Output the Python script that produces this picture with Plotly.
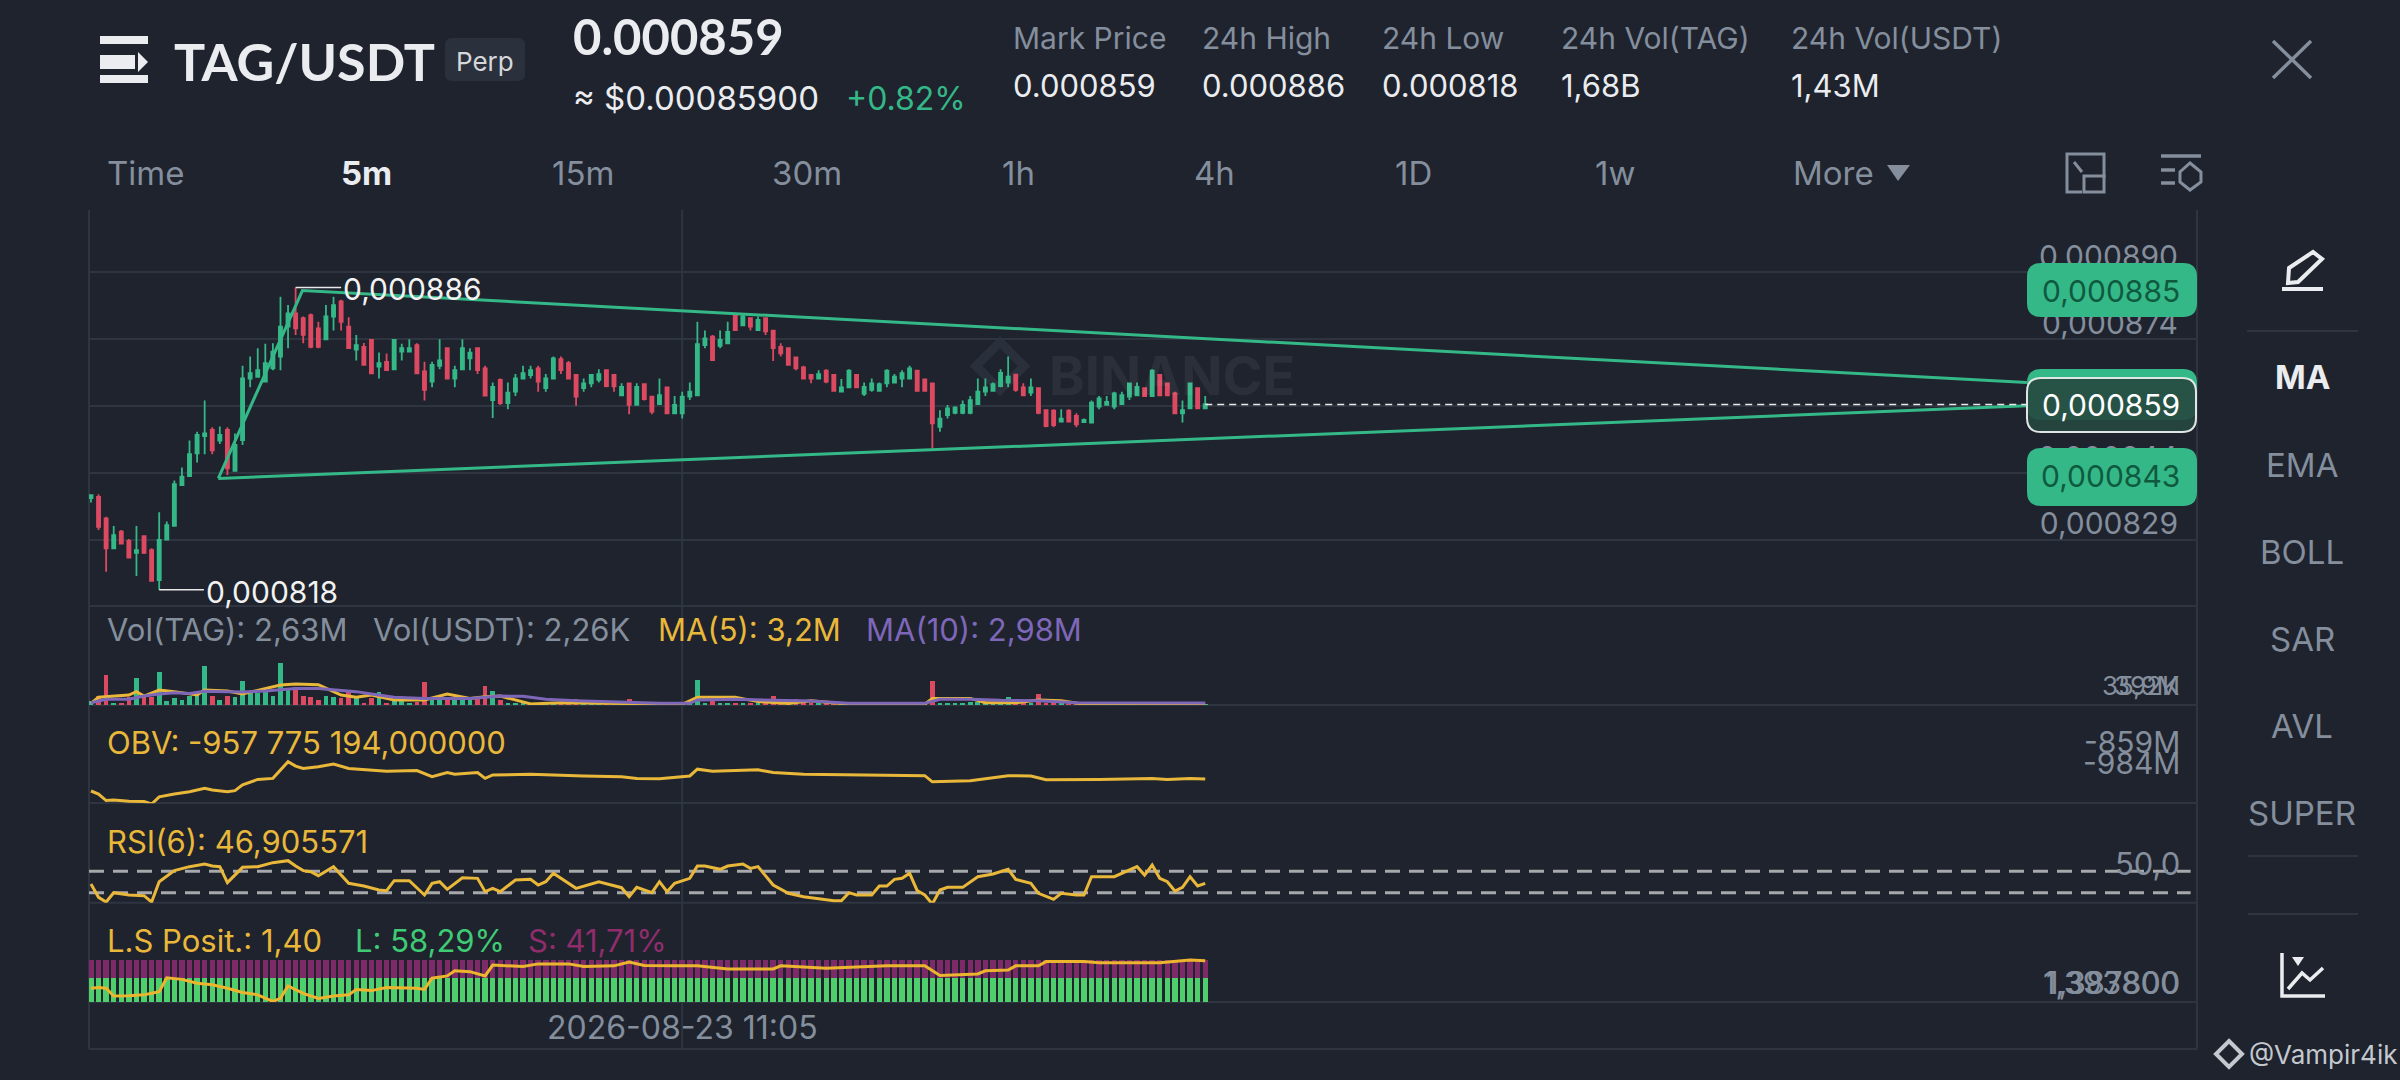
import plotly.graph_objects as go

# candle prices, in millionths of a USDT
opens = [838.6,838.9,834.0,827.2,831.0,828.9,826.2,830.0,826.8,820.0,
829.2,832.3,841.6,843.6,848.8,852.7,854.1,851.7,854.1,844.8,
851.8,865.8,866.2,865.1,868.1,870.8,877.6,880.6,879.5,880.2,
877.2,874.7,879.9,883.3,877.6,872.4,873.0,874.6,868.5,869.6,
867.9,871.9,871.9,873.4,867.4,865.1,868.7,872.7,865.8,867.9,
870.4,872.7,868.1,860.9,865.5,860.2,862.8,865.8,866.6,868.1,
863.6,865.8,870.2,869.3,866.6,863.6,864.7,865.5,867.7,866.6,
862.0,864.7,859.8,864.5,861.7,860.0,863.8,857.9,857.9,861.7,
862.0,873.4,875.3,873.2,873.8,880.2,877.9,879.5,876.8,879.5,
876.7,873.0,872.7,870.6,868.3,866.6,865.8,867.6,866.6,862.8,
863.8,866.6,862.3,863.2,863.0,864.7,864.9,865.8,865.8,867.6,
865.6,864.7,854.8,857.5,858.0,858.0,858.0,860.0,862.8,863.0,
864.1,864.9,866.7,863.8,862.6,863.6,858.6,858.5,856.0,858.5,
857.3,855.9,855.8,859.4,859.8,859.4,860.0,861.7,862.0,863.6,
861.8,866.6,864.7,862.4,857.9,859.0,863.6,859.0]
closes = [839.3,832.1,827.2,830.2,828.3,825.1,826.8,826.2,819.8,829.1,
832.5,841.8,843.5,848.6,853.0,853.3,849.5,853.0,845.4,850.7,
865.8,867.0,867.7,869.3,871.9,877.6,880.6,877.2,875.7,873.0,
873.0,879.9,882.5,878.7,872.7,873.4,868.9,867.0,869.3,867.7,
874.6,872.7,872.7,867.0,863.2,868.9,869.9,865.8,867.7,872.7,
871.7,867.7,861.9,863.9,860.2,862.6,865.8,867.0,867.7,865.1,
865.8,870.4,867.7,865.8,861.7,864.7,866.6,866.8,864.1,864.0,
863.9,859.8,863.9,861.1,858.3,862.0,857.9,859.8,861.7,862.8,
873.6,874.9,870.0,874.6,876.4,876.8,879.9,877.6,879.1,876.5,
872.7,871.5,868.9,868.1,865.8,865.8,866.8,865.1,863.0,863.8,
867.6,863.8,863.9,864.7,864.5,867.6,866.2,867.0,868.1,863.0,
863.0,855.6,856.7,859.0,859.2,859.8,860.9,862.8,863.8,864.5,
867.1,866.2,863.2,862.0,863.8,858.0,855.0,855.2,856.7,856.0,
855.4,856.4,860.3,861.3,860.5,862.4,862.0,864.7,863.9,861.8,
867.6,862.0,862.0,857.9,858.6,864.7,859.0,860.0]
highs = [839.5,839.5,834.4,832.3,831.4,829.3,832.3,830.2,827.2,835.4,
833.3,842.6,845.6,851.7,853.7,860.8,854.7,854.9,854.7,853.3,
868.7,870.8,872.7,873.7,873.8,884.4,882.5,886.5,879.9,880.6,
878.7,882.5,884.4,883.7,879.7,875.7,873.9,874.7,871.7,871.5,
874.7,873.7,874.7,873.8,869.6,869.6,874.7,872.7,868.7,874.7,
872.7,872.8,868.7,864.9,865.8,864.9,866.8,868.7,868.7,868.7,
866.8,870.8,870.8,869.8,866.6,865.8,866.8,867.9,867.9,866.8,
864.7,864.9,864.7,864.7,861.8,865.8,863.8,861.8,862.8,864.9,
878.7,876.7,875.7,876.7,878.7,880.6,880.6,879.7,879.9,879.7,
876.8,873.8,872.8,870.8,868.7,866.8,867.7,867.9,866.8,865.7,
867.9,866.8,864.9,865.8,864.9,867.9,866.8,867.7,868.7,867.7,
865.8,864.9,858.6,859.8,859.5,860.8,861.8,865.8,865.8,864.9,
867.9,870.8,866.8,864.7,865.8,863.8,858.8,858.8,858.8,858.8,
857.9,856.7,860.8,861.8,861.8,862.8,862.8,864.9,864.9,863.8,
867.9,866.8,864.9,862.8,860.8,864.9,863.8,861.8]
lows = [837.6,831.4,821.9,827.2,828.2,824.9,820.9,825.9,819.8,817.8,
829.2,832.3,841.6,843.6,846.7,848.6,848.6,850.9,843.9,844.6,
850.7,863.8,866.2,864.9,867.7,867.7,872.7,875.7,873.8,872.7,
872.7,874.7,876.7,876.7,872.7,869.9,868.7,866.8,865.8,867.7,
867.7,869.9,871.8,866.8,860.8,863.8,867.9,865.8,863.8,867.7,
867.7,866.8,861.9,856.8,859.8,858.8,861.8,865.8,865.8,862.8,
862.8,865.8,866.8,865.8,859.6,862.8,863.8,864.9,863.8,862.8,
861.8,857.7,859.8,860.8,857.7,859.8,857.7,857.7,856.7,860.9,
861.8,872.7,869.8,872.7,873.6,876.6,877.7,876.7,876.7,875.7,
869.8,870.8,868.7,867.7,865.7,864.7,865.8,864.7,862.8,862.8,
863.8,863.8,861.8,862.8,862.8,863.8,864.7,863.8,865.7,862.8,
862.8,849.9,853.7,856.7,857.7,857.7,857.7,859.8,861.8,862.8,
863.8,863.8,862.8,861.8,861.8,857.7,854.7,854.7,855.8,855.8,
854.7,855.8,855.8,858.8,859.8,858.8,859.8,860.9,861.8,861.8,
861.8,861.8,861.8,857.7,855.8,858.8,858.8,858.8]

# volume in millions of TAG
volumes = [3.3,8.1,26.2,1.8,1.8,7.0,23.4,7.0,7.0,28.2,
3.3,6.1,4.7,8.1,9.0,33.4,8.1,4.1,8.1,7.0,
20.5,11.0,10.4,11.0,8.1,35.9,13.3,15.6,7.6,7.0,
4.7,7.6,7.0,6.1,11.9,7.0,1.8,6.1,11.0,1.8,
4.1,4.1,1.8,2.4,19.6,5.3,4.7,7.0,4.1,4.1,
4.1,5.3,16.2,12.4,4.7,1.2,1.0,1.4,1.0,0.9,
1.2,0.8,1.0,1.3,5.3,1.6,1.2,1.0,1.3,0.9,
1.5,5.3,1.4,1.0,0.8,0.9,1.2,0.8,0.9,1.0,
21.9,1.6,4.1,1.2,1.0,0.9,1.1,1.3,1.0,1.5,
8.1,1.5,1.2,5.3,1.2,1.0,0.9,1.1,1.0,0.8,
0.9,1.0,0.8,0.9,0.8,1.0,0.9,0.8,0.9,1.2,
1.3,21.0,1.6,1.2,1.0,1.3,2.4,2.4,1.0,1.1,
1.4,7.0,1.5,1.2,1.4,9.9,1.4,1.1,0.9,0.8,
0.7,0.8,0.9,0.7,0.8,0.7,0.9,0.8,0.7,0.8,
1.0,0.9,0.7,0.8,0.8,0.9,0.8,0.8]

ma5_x = [0,1,5,6,7,9,11,14,15,18,20,25,27,30,33,35,37,40,44,47,50,52,54,56,58,62,72,78,80,85,88,92,95,100,110,111,116,118,122,125,128,131,147]
ma5 = [1.4,6.6,8.6,11.5,7.7,12.9,11.5,8.6,12.9,12,9.5,17.2,18.1,17.5,8.6,6.6,8.6,4.3,4.3,9.5,5.7,7.2,7.7,4.3,0.9,2,1.4,0.6,6.6,6.6,2.9,1.4,3.7,0.6,0.6,5.7,5.7,2,2,4.3,3.7,0.6,0.6]
ma10_x = [0,2,5,7,9,11,13,15,18,20,23,25,27,30,33,35,37,40,44,47,50,52,54,57,60,64,70,75,79,80,85,90,95,100,110,112,116,120,125,130,147]
ma10 = [2.0,4.9,4.9,7.7,9.5,10.6,10,11.8,11.5,11.2,12,12.9,14.1,14.1,12.9,11.5,9.5,6.6,5.5,5.7,5.5,6.6,7.7,7.5,4.9,3.7,2.6,1.4,1.4,4.3,4.9,4.3,3.4,1.4,1.4,4.9,4.9,4.0,3.7,2.0,1.7]

obv_x = [0,1,2,3,5,7,8,9,11,13,15,16,18,19,20,22,24,25,26,27,28,30,32,34,37,39,43,45,47,48,51,52,53,58,65,70,72,75,79,80,82,88,90,94,110,111,116,121,124,126,133,140,142,145,147]
obv = [-945,-954,-973,-971,-975,-976,-983,-962,-954,-947,-937,-942,-947,-944,-927,-911,-908,-883,-859,-872,-879,-874,-866,-879,-883,-887,-885,-903,-891,-896,-891,-908,-898,-896,-901,-903,-908,-909,-901,-881,-887,-883,-891,-896,-900,-918,-915,-900,-901,-912,-911,-908,-911,-908,-910]

rsi_x = [0,1,2,3,5,7,8,9,11,13,15,16,17,18,20,22,24,26,27,28,29,30,32,34,36,38,39,40,42,44,45,46,47,49,51,52,53,54,56,58,59,60,61,64,67,70,71,72,74,75,76,77,79,80,81,83,84,86,87,88,90,92,94,96,98,99,100,101,103,104,105,106,107,108,109,110,111,112,113,115,117,119,121,122,124,125,127,128,130,131,132,135,137,138,139,140,141,142,143,144,145,146,147]
rsi = [46.3,21.3,12.5,30,25.6,24.4,12.5,50.6,71.3,78.8,83.8,80,78.8,48.8,77.5,78.8,86.3,90,80,71.3,69.4,61.9,78.8,47.5,42.5,35,33.8,52.5,52.5,25.6,47.5,50.6,36.3,58.1,56.9,31.9,38.1,31.9,53.8,55,44.4,50.6,66.3,38.1,50.6,39.4,22.5,40,30,50.6,31.9,47.5,56.9,80,80,73.8,80,83.8,75.6,78.8,44.4,28.8,22.5,19.4,15,15,30,25.6,25.6,42.5,42.5,55,56.9,66.3,33.8,25.6,8.8,35,40,40,60,65,73.8,55,47.5,28.8,17.5,28.8,25.6,25.6,60,60,72.5,78.8,63.1,81.9,56.9,50.6,33.1,40,60,42.5,47.5]
rsi_levels = [70, 30]

ls_x = [0,1,2,3,5,7,8,9,10,12,14,16,18,20,22,24,25,26,28,30,32,34,35,37,39,43,44,45,47,48,50,52,53,57,59,63,65,69,71,73,77,80,84,90,91,97,105,110,112,117,118,121,122,125,126,131,133,141,145,147]
ls_ratio = [1.327,1.329,1.327,1.307,1.308,1.310,1.314,1.318,1.354,1.350,1.340,1.336,1.327,1.316,1.310,1.293,1.301,1.333,1.314,1.301,1.307,1.310,1.324,1.321,1.329,1.327,1.324,1.353,1.359,1.372,1.370,1.359,1.387,1.383,1.390,1.390,1.383,1.385,1.395,1.386,1.385,1.385,1.377,1.377,1.385,1.379,1.385,1.385,1.360,1.364,1.372,1.374,1.385,1.385,1.396,1.396,1.393,1.393,1.400,1.398]
long_pct = [58.29] * len(opens)
short_pct = [41.71] * len(opens)

price_ticks = [890, 874.7, 859.5, 844.3, 829.2]
price_labels = ["0,000890", "0,000874", "0,000860", "0,000844", "0,000829"]

# drawn trendlines, index on the candle axis / price
trend_x = [16.8, 27.9, 255.4]
trend_y = [843.1, 885.8, 864.9]
base_x = [16.8, 255.4]
base_y = [843.1, 859.6]
last_price = 859.9
low_leader_x = [9, 14.9]
low_price = 817.8
high_leader_x = [27, 33]
high_price = 886.5

header_stats = [("Mark Price", "0.000859"), ("24h High", "0.000886"), ("24h Low", "0.000818"),
                ("24h Vol(TAG)", "1,68B"), ("24h Vol(USDT)", "1,43M")]
stat_pos = [1012, 1201, 1381, 1560, 1790]
tabs = ["5m", "15m", "30m", "1h", "4h", "1D", "1w"]
tab_pos = [366, 583, 807, 1018, 1214, 1414, 1615]
side_items = ["EMA", "BOLL", "SAR", "AVL", "SUPER"]
side_pos = [465, 552, 639, 726, 813]

BG = "#1e232e"
GRID = "#2f3540"
GREY = "#848e9c"
WHITE = "#eaecef"
GREEN = "#35b887"
RED = "#dc4a62"
YELLOW = "#e9b83a"
PURPLE = "#7e67b8"
FONT = "Inter"
W, H = 2400, 1080


def px(x):
    return x / W


def py(y):
    return 1 - y / H


annotations = []
shapes = []


def txt(x, y, s, size=29, color=GREY, anchor="left", weight=None, family=FONT):
    if weight:
        s = f"<b>{s}</b>"
    annotations.append(dict(x=px(x), y=py(y), xref="paper", yref="paper", text=s, showarrow=False,
                            xanchor=anchor, yanchor="middle", borderpad=0,
                            font=dict(family=family, size=size, color=color)))


def rect(x0, y0, x1, y1, fill, layer="above"):
    shapes.append(dict(type="rect", xref="paper", yref="paper", x0=px(x0), x1=px(x1), y0=py(y0), y1=py(y1),
                       fillcolor=fill, line=dict(width=0), layer=layer))


def seg(x0, y0, x1, y1, color=GRID, width=2, layer="below"):
    shapes.append(dict(type="line", xref="paper", yref="paper", x0=px(x0), x1=px(x1), y0=py(y0), y1=py(y1),
                       line=dict(color=color, width=width), layer=layer))


def path(points, color=None, fill=None, width=3, close=False, layer="above"):
    d = "M" + " L".join(f"{px(a):.5f},{py(b):.5f}" for a, b in points) + (" Z" if close else "")
    shapes.append(dict(type="path", xref="paper", yref="paper", path=d, layer=layer, fillcolor=fill or "rgba(0,0,0,0)",
                       line=dict(color=color or "rgba(0,0,0,0)", width=width if color else 0)))


def pill(x0, y0, x1, y1, fill, r=14, border=None):
    q = lambda a, b: f"{px(a):.5f},{py(b):.5f}"
    d = (f"M{q(x0 + r, y0)} L{q(x1 - r, y0)} Q{q(x1, y0)} {q(x1, y0 + r)} L{q(x1, y1 - r)} Q{q(x1, y1)} {q(x1 - r, y1)} "
         f"L{q(x0 + r, y1)} Q{q(x0, y1)} {q(x0, y1 - r)} L{q(x0, y0 + r)} Q{q(x0, y0)} {q(x0 + r, y0)} Z")
    shapes.append(dict(type="path", xref="paper", yref="paper", path=d, fillcolor=fill, layer="above",
                       line=dict(color=border or "rgba(0,0,0,0)", width=2 if border else 0)))


idx = list(range(len(opens)))
fig = go.Figure()

fig.add_trace(go.Candlestick(x=idx, open=opens, high=highs, low=lows, close=closes, yaxis="y",
                             increasing=dict(line=dict(color=GREEN, width=1.8), fillcolor=GREEN),
                             decreasing=dict(line=dict(color=RED, width=1.8), fillcolor=RED),
                             whiskerwidth=0, hoverinfo="skip"))
fig.add_trace(go.Scatter(x=low_leader_x, y=[low_price] * 2, mode="lines", line=dict(color="#e8e8e8", width=1.5)))
fig.add_trace(go.Scatter(x=high_leader_x, y=[high_price] * 2, mode="lines", line=dict(color="#e8e8e8", width=1.5)))
fig.add_trace(go.Scatter(x=trend_x, y=trend_y, mode="lines", line=dict(color=GREEN, width=3)))
fig.add_trace(go.Scatter(x=base_x, y=base_y, mode="lines", line=dict(color=GREEN, width=3)))
fig.add_trace(go.Scatter(x=[idx[-1], trend_x[-1]], y=[last_price] * 2, mode="lines",
                         line=dict(color="#e8e8e8", width=1.5, dash="7px,5px")))

# volume
bar_colors = [GREEN if c >= o else RED for o, c in zip(opens, closes)]
fig.add_trace(go.Bar(x=idx, y=volumes, marker=dict(color=bar_colors, line=dict(width=0)), width=0.62, yaxis="y2"))
fig.add_trace(go.Scatter(x=ma5_x, y=ma5, mode="lines", line=dict(color=YELLOW, width=3), yaxis="y2", cliponaxis=False))
fig.add_trace(go.Scatter(x=ma10_x, y=ma10, mode="lines", line=dict(color=PURPLE, width=3), yaxis="y2", cliponaxis=False))

fig.add_trace(go.Scatter(x=obv_x, y=obv, mode="lines", line=dict(color=YELLOW, width=3), yaxis="y3", cliponaxis=False))

for level in rsi_levels:
    fig.add_trace(go.Scatter(x=[-0.26, 277], y=[level, level], mode="lines", yaxis="y4",
                             line=dict(color="#a6a8ab", width=3, dash="15px,9px")))
fig.add_trace(go.Scatter(x=rsi_x, y=rsi, mode="lines", line=dict(color=YELLOW, width=3), yaxis="y4", cliponaxis=False))

fig.add_trace(go.Bar(x=idx, y=long_pct, marker=dict(color="#4fcf6c", line=dict(width=0)), width=0.72, yaxis="y5"))
fig.add_trace(go.Bar(x=idx, y=short_pct, marker=dict(color="#7f2a68", line=dict(width=0)), width=0.72, yaxis="y5"))
fig.add_trace(go.Scatter(x=ls_x, y=ls_ratio, mode="lines", line=dict(color="#edb52e", width=3), yaxis="y6"))

# panel rules and frame
for y in [606, 705, 803, 902.7, 1002, 1049]:
    seg(89, y, 2197, y)
seg(89, 210, 89, 1049)
seg(2197, 210, 2197, 1049)
shapes.append(dict(type="line", xref="x", yref="paper", x0=78, x1=78, y0=py(1049), y1=py(210),
                   line=dict(color=GRID, width=2), layer="below"))

# price tags on the right
pill(2027, 263, 2197, 317, GREEN)
pill(2027, 369, 2197, 420, GREEN)
pill(2027, 448, 2197, 506, GREEN)
pill(2027, 378, 2196, 432, "rgba(38,72,64,0.9)", border="#dfe6e4")
txt(2181, 291, "0,000885", size=30, color="#0f5a3f", anchor="right")
txt(2181, 405, "0,000859", size=30, color="#ffffff", anchor="right")
txt(2181, 476, "0,000843", size=30, color="#0f5a3f", anchor="right")

# watermark of the exchange
path([(1000, 342), (1024, 366), (1000, 390), (976, 366)], color="#2a303b", width=9, close=True, layer="below")
path([(1000, 385), (1020, 405), (1000, 425)], color="#2a303b", width=0, layer="below")
txt(1048, 375, "BINANCE", size=54, color="rgba(255,255,255,0.055)", weight=True)

# leader labels
txt(342, 289, "0,000886", size=30, color="#f2f2f2")
txt(205, 592, "0,000818", size=30, color="#f2f2f2")

# indicator captions
txt(106, 629, "Vol(TAG): 2,63M", size=31)
txt(372, 629, "Vol(USDT): 2,26K", size=31)
txt(657, 629, "MA(5): 3,2M", size=31, color=YELLOW)
txt(865, 629, "MA(10): 2,98M", size=31, color=PURPLE)
txt(106, 742, "OBV: -957 775 194,000000", size=31, color=YELLOW)
txt(106, 841, "RSI(6): 46,905571", size=31, color=YELLOW)
txt(106, 940, "L.S Posit.: 1,40", size=31, color=YELLOW)
txt(354, 940, "L: 58,29%", size=31, color="#3ecb74")
txt(527, 940, "S: 41,71%", size=31, color="#8f2d6c")
txt(682, 1027, "2026-08-23 11:05", size=32, anchor="center")

# right axis readouts of the lower panes
for s, y, size in [("35,9M", 685, 26), ("392K", 685, 26), ("-859M", 742, 30), ("-984M", 763, 30), ("50,0", 863, 31),
                   ("1,393800", 982, 31), ("1,387800", 982, 31)]:
    txt(2181, y, s, size=size, anchor="right")

# header
rect(100, 36, 148, 44, WHITE)
rect(100, 55, 135, 69, WHITE)
path([(138, 52), (148, 62), (138, 72)], fill=WHITE, close=True)
rect(100, 75, 148, 83, WHITE)
txt(173, 61, "TAG/USDT", size=52, color=WHITE, weight=True, family="Lato")
pill(445, 38, 525, 81, "#2b313c", r=7)
txt(485, 62, "Perp", size=26, color="#d5d7db", anchor="center")
txt(572, 36, "0.000859", size=49, color=WHITE, weight=True, family="Lato")
txt(572, 98, "≈ $0.00085900", size=33, color=WHITE)
txt(845, 98, "+0.82%", size=32, color=GREEN)
for (label, value), x in zip(header_stats, stat_pos):
    txt(x, 38, label, size=30)
    txt(x, 86, value, size=31, color=WHITE)
seg(2273, 41, 2311, 78, color=GREY, width=3.5, layer="above")
seg(2311, 41, 2273, 78, color=GREY, width=3.5, layer="above")

# timeframe row
txt(106, 173, "Time", size=33)
for tab, x in zip(tabs, tab_pos):
    if tab == "5m":
        txt(x, 173, tab, size=33, color=WHITE, anchor="center", weight=True)
    else:
        txt(x, 173, tab, size=33, anchor="center")
txt(1792, 173, "More", size=33)
path([(1887, 165), (1910, 165), (1898, 181)], fill=GREY, close=True)
path([(2104, 178), (2104, 154), (2067, 154), (2067, 192), (2082, 192)], color=GREY, width=3)
path([(2084, 176), (2104, 176), (2104, 192), (2084, 192)], color=GREY, width=3, close=True)
path([(2074, 162), (2082, 172)], color=GREY, width=3)
seg(2161, 156, 2201, 156, color=GREY, width=3.5, layer="above")
seg(2161, 170, 2175, 170, color=GREY, width=3.5, layer="above")
seg(2161, 183, 2175, 183, color=GREY, width=3.5, layer="above")
path([(2190, 163), (2201, 172), (2201, 182), (2190, 190), (2180, 182), (2180, 172)], color=GREY, width=3, close=True)

# side menu
path([(2289, 268), (2313, 252), (2322, 259), (2298, 282), (2288, 283)], color=WHITE, width=4, close=True)
seg(2282, 289, 2323, 289, color=WHITE, width=4, layer="above")
seg(2247, 331, 2358, 331)
txt(2302, 377, "MA", size=33, color=WHITE, anchor="center", weight=True)
for item, y in zip(side_items, side_pos):
    txt(2302, y, item, size=33, anchor="center")
seg(2248, 856, 2358, 856)
seg(2248, 914, 2358, 914)
path([(2282, 953), (2282, 996), (2325, 996)], color=WHITE, width=3.5)
path([(2288, 989), (2302, 973), (2310, 980), (2323, 968)], color=WHITE, width=3.5)
path([(2292, 957), (2304, 957), (2298, 966)], fill=WHITE, close=True)
path([(2229, 1041), (2242, 1054), (2229, 1067), (2216, 1054)], color="#c4c8cf", width=4, close=True)
txt(2248, 1054, "@Vampir4ik", size=26, color="#c4c8cf")

layout_axis = dict(showgrid=False, zeroline=False, showticklabels=False, ticks="", showline=False)
fig.update_layout(
    width=W, height=H, margin=dict(l=0, r=0, t=0, b=0), paper_bgcolor=BG, plot_bgcolor=BG,
    showlegend=False, barmode="stack", boxgap=0.42, hovermode=False,
    annotations=annotations, shapes=shapes,
    xaxis=dict(domain=[px(89), px(2197)], range=[-0.26, 277.84], rangeslider=dict(visible=False), **layout_axis),
    yaxis=dict(domain=[py(606), py(210)], range=[814.1, 904.1], side="right", anchor="x",
               tickmode="array", tickvals=price_ticks, ticktext=price_labels,
               ticklabelposition="inside", ticklabelstandoff=16, ticklabelshift=-16,
               tickfont=dict(family=FONT, size=30, color=GREY), showgrid=True, gridcolor=GRID, gridwidth=2,
               zeroline=False, ticks="", showline=False),
    yaxis2=dict(domain=[py(705), py(606)], range=[0, 85.2], anchor="x", **layout_axis),
    yaxis3=dict(domain=[py(803.3), py(705)], range=[-981, -693], anchor="x", **layout_axis),
    yaxis4=dict(domain=[py(902.7), py(803.3)], range=[11.25, 197.5], anchor="x", **layout_axis),
    yaxis5=dict(domain=[py(1002), py(902.7)], range=[0, 236.5], anchor="x", **layout_axis),
    yaxis6=dict(overlaying="y5", range=[1.2916, 1.548], anchor="x", **layout_axis),
)

fig.write_html("out.html", config=dict(displayModeBar=False),
               post_script="document.body.style.margin='0';document.body.style.background='" + BG + "';")
